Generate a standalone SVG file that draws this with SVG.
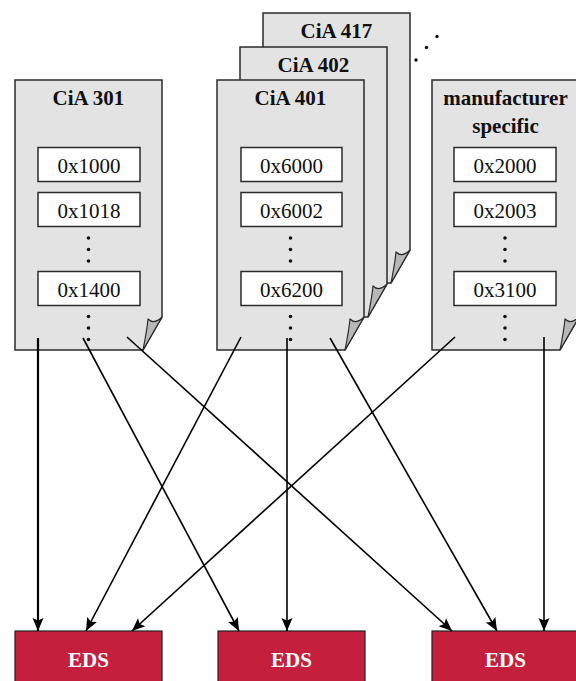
<svg xmlns="http://www.w3.org/2000/svg" width="576" height="681" viewBox="0 0 576 681">
<style>
.page{fill:#e3e3e3;stroke:#2b2b2b;stroke-width:1.5}
.flap{fill:#b8b8b8;stroke:#2b2b2b;stroke-width:1.2;stroke-linejoin:round}
.box{fill:#fff;stroke:#2b2b2b;stroke-width:1.5}
.title{font-family:"Liberation Serif","Times New Roman",serif;font-weight:bold;font-size:21px;fill:#111;text-anchor:middle}
.lbl{font-family:"Liberation Serif","Times New Roman",serif;font-size:21px;fill:#111;text-anchor:middle}
.eds{fill:#c51f3e;stroke:#222;stroke-width:1.2}
.edst{font-family:"Liberation Serif","Times New Roman",serif;font-weight:bold;font-size:21px;fill:#fff;text-anchor:middle}
.dot{fill:#111}
.conn{stroke:#000;stroke-width:1.6;fill:none;marker-end:url(#ah)}
</style>
<defs>
<marker id="ah" markerUnits="userSpaceOnUse" markerWidth="14" markerHeight="14" viewBox="0 0 14 14" refX="13" refY="7" orient="auto">
<path d="M0,1.5 L13,7 L0,12.5 L2.5,7 Z" fill="#000"/>
</marker>
<g id="pg">
<path class="page" d="M0,0 H147 V237 L128,270 H0 Z"/>
<path class="flap" d="M147,237 C142,242 137,243 133,239 C132,250 130,260 128,270 Z"/>
</g>
<g id="vdots">
<circle cx="0" cy="0" r="1.8"/>
<circle cx="0" cy="11.5" r="1.8"/>
<circle cx="0" cy="23" r="1.8"/>
</g>
</defs>

<g id="cia417">
<use href="#pg" x="263" y="13"/>
<text class="title" x="336.5" y="38">CiA 417</text>
</g>
<g id="cia402">
<use href="#pg" x="240" y="47"/>
<text class="title" x="313.5" y="72">CiA 402</text>
</g>
<g id="more" class="dot">
<circle cx="416" cy="60" r="1.7"/>
<circle cx="426.5" cy="47.5" r="1.7"/>
<circle cx="437" cy="36.5" r="1.7"/>
</g>

<g id="cia301">
<use href="#pg" x="15" y="80"/>
<text class="title" x="88.5" y="105">CiA 301</text>
<rect class="box" x="38" y="147.5" width="102" height="34"/>
<text class="lbl" x="89" y="172.5">0x1000</text>
<rect class="box" x="38" y="192.5" width="102" height="34"/>
<text class="lbl" x="89" y="217.5">0x1018</text>
<use href="#vdots" x="88.5" y="238" class="dot"/>
<rect class="box" x="38" y="271.5" width="102" height="34"/>
<text class="lbl" x="89" y="296.5">0x1400</text>
<use href="#vdots" x="88.5" y="316.5" class="dot"/>
</g>

<g id="cia401">
<use href="#pg" x="217" y="80"/>
<text class="title" x="290.5" y="105">CiA 401</text>
<rect class="box" x="241" y="147.5" width="101" height="34"/>
<text class="lbl" x="291.5" y="172.5">0x6000</text>
<rect class="box" x="241" y="192.5" width="101" height="34"/>
<text class="lbl" x="291.5" y="217.5">0x6002</text>
<use href="#vdots" x="290.5" y="238" class="dot"/>
<rect class="box" x="241" y="271.5" width="101" height="34"/>
<text class="lbl" x="291.5" y="296.5">0x6200</text>
<use href="#vdots" x="290.5" y="316.5" class="dot"/>
</g>

<g id="mfr">
<use href="#pg" x="432" y="80"/>
<text class="title" x="505.5" y="105">manufacturer</text>
<text class="title" x="505.5" y="133">specific</text>
<rect class="box" x="454" y="147.5" width="102" height="34"/>
<text class="lbl" x="505" y="172.5">0x2000</text>
<rect class="box" x="454" y="192.5" width="102" height="34"/>
<text class="lbl" x="505" y="217.5">0x2003</text>
<use href="#vdots" x="505" y="238" class="dot"/>
<rect class="box" x="454" y="271.5" width="102" height="34"/>
<text class="lbl" x="505" y="296.5">0x3100</text>
<use href="#vdots" x="505" y="316.5" class="dot"/>
</g>

<g id="eds1">
<rect class="eds" x="15" y="631" width="147" height="60"/>
<text class="edst" x="88.5" y="667">EDS</text>
</g>
<g id="eds2">
<rect class="eds" x="218" y="631" width="147" height="60"/>
<text class="edst" x="291.5" y="667">EDS</text>
</g>
<g id="eds3">
<rect class="eds" x="432" y="631" width="147" height="60"/>
<text class="edst" x="505.5" y="667">EDS</text>
</g>

<g id="connectors">
<line class="conn" style="stroke-width:2.2" x1="38" y1="338" x2="38" y2="631"/>
<line class="conn" x1="83" y1="338" x2="239" y2="631"/>
<line class="conn" x1="127" y1="337" x2="452" y2="631"/>
<line class="conn" x1="241" y1="337" x2="86" y2="631"/>
<line class="conn" x1="287" y1="338" x2="287" y2="631"/>
<line class="conn" x1="330" y1="338" x2="497" y2="631"/>
<line class="conn" x1="455" y1="337" x2="132" y2="631"/>
<line class="conn" x1="544" y1="337" x2="544" y2="631"/>
</g>
</svg>
